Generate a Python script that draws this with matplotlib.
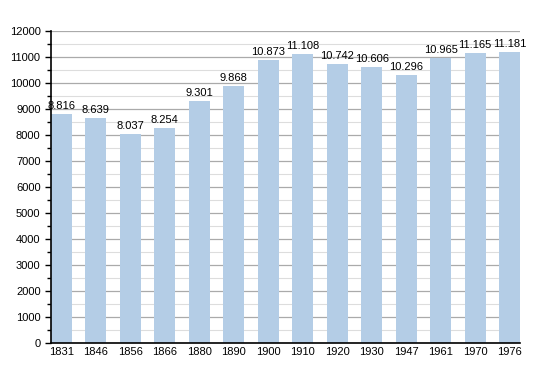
import matplotlib
matplotlib.use("Agg")
import matplotlib.pyplot as plt
from matplotlib.ticker import MultipleLocator

years = ["1831", "1846", "1856", "1866", "1880", "1890", "1900", "1910",
         "1920", "1930", "1947", "1961", "1970", "1976"]
population = [8816, 8639, 8037, 8254, 9301, 9868, 10873, 11108,
              10742, 10606, 10296, 10965, 11165, 11181]

plt.rcParams['font.family'] = ['Liberation Sans', 'DejaVu Sans']

fig = plt.figure(figsize=(5.5, 3.73), dpi=100)
ax = fig.add_axes([51/550, 1 - 343/373, (520-51)/550, (343-31)/373])
ax.set_axisbelow(True)

x = list(range(len(years)))
bars = ax.bar(x, population, width=0.6, color="#b4cde6", zorder=3)
for xi, v in zip(x, population):
    s = f"{v:,}".replace(",", ".")
    ax.text(xi, v + 120, s, ha="center", va="bottom", fontsize=8, zorder=4)

ax.set_xlim(-0.3, len(years) - 1 + 0.3)
ax.set_ylim(0, 12000)
ax.set_xticks(x)
ax.set_xticklabels(years, fontsize=8)
ax.yaxis.set_major_locator(MultipleLocator(1000))
ax.yaxis.set_minor_locator(MultipleLocator(500))
ax.tick_params(axis="y", labelsize=8, length=4, width=1, direction="out")
ax.tick_params(axis="y", which="minor", length=3, width=1)
ax.tick_params(axis="x", length=0, pad=3)
ax.grid(axis="y", which="major", color="#aaaaaa", linewidth=0.9)
ax.grid(axis="y", which="minor", color="#dddddd", linewidth=0.8)
for s in ["top", "right"]:
    ax.spines[s].set_visible(False)
ax.spines["left"].set_linewidth(1.2)
ax.spines["bottom"].set_linewidth(1.2)
ax.spines["left"].set_zorder(5)
ax.spines["bottom"].set_zorder(5)

fig.savefig("out.png", dpi=100)
